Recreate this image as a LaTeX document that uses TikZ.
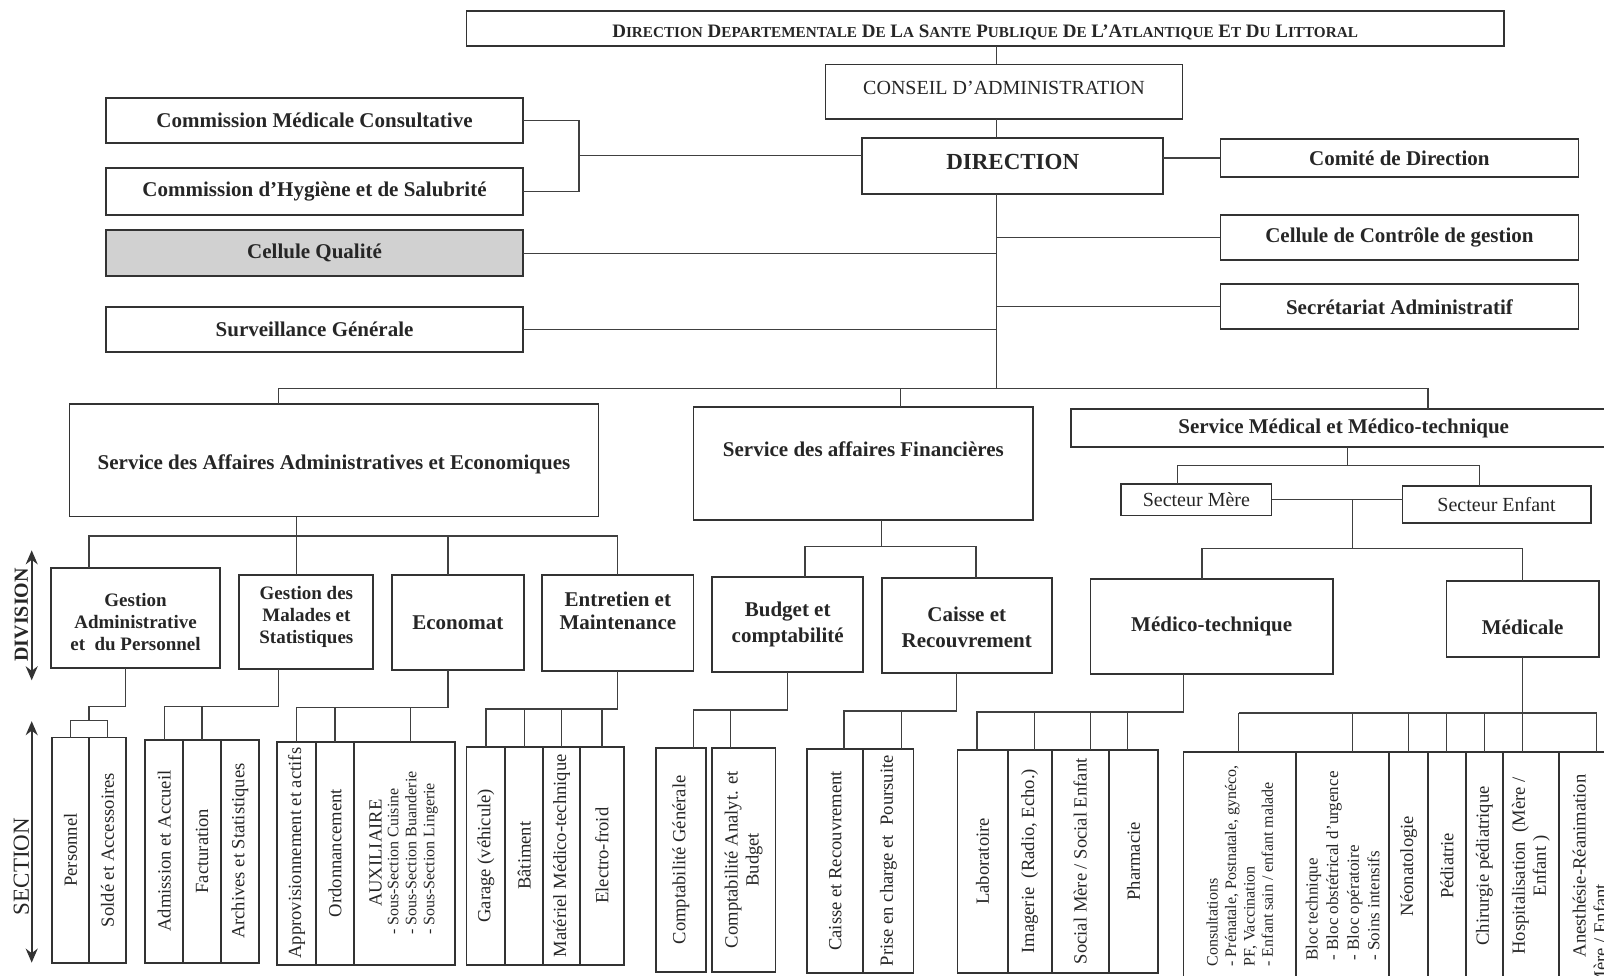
\documentclass[tikz,border=0pt]{standalone}
\usepackage{fontspec}
\setmainfont{Liberation Serif}
\usetikzlibrary{arrows.meta,positioning}

\def\un{0.5115pt}
\newcommand\smc[2]{#1{\fontsize{7.6}{8}\selectfont #2}}

\tikzset{
  box/.style={draw=black!80, line width=0.9pt, inner sep=0pt, outer sep=0pt},
  wire/.style={draw=black!75, line width=0.6pt},
  lab/.style={text=black!85, align=center, inner sep=0pt, font=\bfseries\fontsize{10.5}{11.5}\selectfont},
  reg/.style={font=\fontsize{10}{12}\selectfont},
  dv/.style={font=\bfseries\fontsize{9.5}{11}\selectfont},
  sec/.style={rotate=90, text=black!85, align=center, inner sep=0pt, font=\fontsize{9.3}{10.5}\selectfont},
  listtxt/.style={align=left, font=\fontsize{8}{9.2}\selectfont},
  dimarrow/.style={draw=black!80, line width=0.9pt, {Stealth[length=7pt,width=6pt]}-{Stealth[length=7pt,width=6pt]}},
}

% boite : style du texte, nom, x1, y1, x2, y2, texte
\newcommand\bx[7][]{%
  \node[box, minimum width={(#5-#3)*\un}, minimum height={(#6-#4)*\un}] (#2) at ({(#3+#5)/2},{(#4+#6)/2}) {};
  \node[lab,#1] at (#2.center) {#7};}
% colonne de section, texte vertical
\newcommand\cell[7][]{%
  \node[box, minimum width={(#5-#3)*\un}, minimum height={(#6-#4)*\un}] (#2) at ({(#3+#5)/2},{(#4+#6)/2}) {};
  \node[sec,#1] at (#2.center) {#7};}

\begin{document}
\begin{tikzpicture}[x=\un, y=-\un]
\useasboundingbox (0,0) rectangle (1568,954);
\clip (0,0) rectangle (1568,954);

% tete
\bx[font=\bfseries\fontsize{9.5}{10}\selectfont, yshift=-2pt]{ddsp}{456}{11}{1470}{45}{\smc{D}{IRECTION} \smc{D}{EPARTEMENTALE} \smc{D}{E} \smc{L}{A} \smc{S}{ANTE} \smc{P}{UBLIQUE} \smc{D}{E} \smc{L’A}{TLANTIQUE} \smc{E}{T} \smc{D}{U} \smc{L}{ITTORAL}}
\bx[reg, yshift=2pt]{conseil}{807}{63}{1156}{116}{CONSEIL D’ADMINISTRATION}
\bx[font=\bfseries\fontsize{11.5}{12}\selectfont, yshift=2pt]{dir}{843}{135}{1137}{190}{DIRECTION}

% organes rattaches
\bx{cmc}{104}{96}{511}{140}{Commission Médicale Consultative}
\bx{chs}{104}{164}{511}{210}{Commission d’Hygiène et de Salubrité}
\node[box, fill=black!18, minimum width={407*\un}, minimum height={45*\un}] (cq) at (307.5,247.5) {};
\node[lab] at (cq.center) {Cellule Qualité};
\bx{sg}{104}{300}{511}{344}{Surveillance Générale}
\bx{cdir}{1193}{136}{1543}{173}{Comité de Direction}
\bx{ccg}{1193}{210}{1543}{254}{Cellule de Contrôle de gestion}
\bx{secr}{1193}{278}{1543}{322}{Secrétariat Administratif}

\coordinate (trunk) at (974,380);
\draw[wire] (ddsp.south -| trunk) -- (conseil.north -| trunk);
\draw[wire] (conseil.south -| trunk) -- (dir.north -| trunk);
\draw[wire] (dir.south -| trunk) -- (trunk);
\draw[wire] (dir.east |- cdir.west) -- (cdir.west);
\draw[wire] (ccg.west) -- (ccg.west -| trunk);
\draw[wire] (secr.west) -- (secr.west -| trunk);
\coordinate (brk) at (566,152);
\draw[wire] (cmc.east) -| (brk) |- (chs.east);
\draw[wire] (brk) -- (brk -| dir.west);
\draw[wire] (cq.east) -- (cq.east -| trunk);
\draw[wire] (sg.east) -- (sg.east -| trunk);

% services
\bx[yshift=-2pt]{saae}{68}{395}{585}{505}{Service des Affaires Administratives et Economiques}
\bx[yshift=7pt]{saf}{678}{398}{1010}{508}{Service des affaires Financières}
\bx{smm}{1047}{400}{1580}{437}{Service Médical et Médico-technique}
\draw[wire] (saae.north -| 272,0) |- (trunk) -| (smm.north -| 1396,0);
\draw[wire] (saf.north -| 880,0) -- (trunk -| 880,0);

\bx[reg]{sm}{1096}{473}{1243}{504}{Secteur Mère}
\bx[reg]{sen}{1371}{475}{1555}{511}{Secteur Enfant}
\coordinate (ms) at (1317,455);
\draw[wire] (smm.south -| ms) -- (ms);
\draw[wire] (sm.north -| 1151,0) |- (ms) -| (sen.north -| 1446,0);
\draw[wire] (sm.east) -- (sm.east -| sen.west);

% divisions
\bx[dv, yshift=-2pt]{ga}{50}{555}{215}{653}{Gestion\\Administrative\\et~ du Personnel}
\bx[dv, yshift=2.5pt]{gms}{234}{562}{365}{654}{Gestion des\\Malades et\\Statistiques}
\bx{eco}{383}{562}{512}{655}{Economat}
\bx[yshift=6pt, font=\bfseries\fontsize{10.5}{11.8}\selectfont]{ent}{530}{562}{678}{656}{Entretien et\\Maintenance}
\bx[font=\bfseries\fontsize{10.5}{12.8}\selectfont]{bc}{696}{564}{844}{657}{Budget et\\comptabilité}
\bx[font=\bfseries\fontsize{10.5}{12.8}\selectfont, yshift=-1pt]{cr}{862}{565}{1028}{658}{Caisse et\\Recouvrement}
\bx{mt}{1066}{566}{1303}{659}{Médico-technique}
\bx[yshift=-4pt]{med}{1414}{568}{1563}{642}{Médicale}

\coordinate (da) at (290,524);
\draw[wire] (saae.south -| da) -- (da);
\draw[wire] (ga.north -| 87,0) |- (da) -| (ent.north -| 604,0);
\draw[wire] (da) -- (gms.north -| da);
\draw[wire] (eco.north -| 438,0) -- (da -| 438,0);
\coordinate (df) at (862,534);
\draw[wire] (saf.south -| df) -- (df);
\draw[wire] (bc.north -| 787,0) |- (df) -| (cr.north -| 954,0);
\coordinate (mm) at (1322,536);
\draw[wire] (mm |- sm.east) -- (mm);
\draw[wire] (mt.north -| 1175,0) |- (mm) -| (med.north -| 1488,0);

\draw[dimarrow] (31,538) coordinate (dv1) -- (31,665) coordinate (dv2);
\node[sec, font=\bfseries\fontsize{10}{11}\selectfont] (divlab) at (21,601) {DIVISION};
\draw[dimarrow] (31,705) coordinate (sc1) -- (31,941) coordinate (sc2);
\node[sec, font=\fontsize{11.5}{12}\selectfont] (seclab) at (21,847) {SECTION};

% sections
\cell{pers}{51}{721}{87}{941}{Personnel}
\cell{sold}{87}{721}{123}{941}{Soldé et Accessoires}
\coordinate (kA) at (87,704);
\draw[wire] (ga.south -| 123,0) |- (87,691) -- (kA);
\draw[wire] (pers.north) |- (kA) -| (sold.north);

\cell{adm}{142}{723}{179}{941}{Admission et Accueil}
\cell{fac}{179}{723}{216}{941}{Facturation}
\cell{arch}{216}{723}{253}{941}{Archives et Statistiques}
\coordinate (kB) at (272,691);
\draw[wire] (gms.south -| kB) -- (kB) -| (adm.north);
\draw[wire] (fac.north) -- (fac.north |- kB);

\cell{appro}{271}{725}{309}{943}{Approvisionnement et actifs}
\cell{ordo}{309}{725}{346}{943}{Ordonnancement}
\cell{aux}{346}{725}{445}{943}{AUXILIAIRE\\[1pt]{\fontsize{8}{9}\selectfont\begin{tabular}{@{}l@{}}- Sous-Section Cuisine\\- Sous-Section Buanderie\\- Sous-Section Lingerie\end{tabular}}}
\coordinate (kC) at (438,692);
\draw[wire] (eco.south -| kC) -- (kC) -| (appro.north);
\draw[wire] (ordo.north) -- (ordo.north |- kC);
\draw[wire] (aux.north -| 401,0) -- (kC -| 401,0);

\cell{gar}{456}{730}{494}{943}{Garage (véhicule)}
\cell{bat}{494}{730}{531}{943}{Bâtiment}
\cell{mat}{531}{730}{567}{943}{Matériel Médico-technique}
\cell{elec}{567}{730}{610}{943}{Electro-froid}
\coordinate (kD) at (604,693);
\draw[wire] (ent.south -| kD) -- (kD) -| (gar.north);
\foreach \na in {bat,mat,elec} \draw[wire] (\na.north) -- (\na.north |- kD);

\cell{cg}{641}{731}{690}{950}{Comptabilité Générale}
\cell{cab}{696}{731}{758}{950}{Comptabilité Analyt. et\\Budget}
\coordinate (kE) at (770,694);
\draw[wire] (bc.south -| kE) -- (kE) -| (cg.north -| 678,0);
\draw[wire] (cab.north -| 714,0) -- (kE -| 714,0);

\cell{cai}{789}{732}{844}{951}{Caisse et Recouvrement}
\cell{pri}{844}{732}{893}{951}{Prise en charge et~ Poursuite}
\coordinate (kF) at (935,695);
\draw[wire] (cr.south -| kF) -- (kF) -| (cai.north -| 825,0);
\draw[wire] (pri.north -| 881,0) -- (kF -| 881,0);

\cell{labo}{936}{733}{985}{951}{Laboratoire}
\cell{img}{985}{733}{1028}{951}{Imagerie~ (Radio, Echo.)}
\cell{soc}{1028}{733}{1084}{951}{Social Mère / Social Enfant}
\cell{pha}{1084}{733}{1132}{951}{Pharmacie}
\coordinate (kG) at (1157,696);
\draw[wire] (mt.south -| kG) -- (kG) -| (labo.north -| 955,0);
\foreach \xx/\na in {1011/img,1066/soc,1102/pha} \draw[wire] (\na.north -| \xx,0) -- (kG -| \xx,0);

\cell[listtxt]{cons}{1157}{735}{1267}{958}{Consultations\\- Prénatale, Postnatale, gynéco,\\PF, Vaccination\\- Enfant sain / enfant malade}
\cell[listtxt, font=\fontsize{8.5}{10.3}\selectfont]{bloc}{1267}{735}{1358}{958}{Bloc technique\\- Bloc obstétrical d’urgence\\- Bloc opératoire\\- Soins intensifs}
\cell{neo}{1358}{735}{1396}{958}{Néonatologie}
\cell{ped}{1396}{735}{1433}{958}{Pédiatrie}
\cell{chir}{1433}{735}{1469}{958}{Chirurgie pédiatrique}
\cell{hosp}{1469}{735}{1524}{958}{Hospitalisation~ (Mère /\\Enfant )}
\cell[align=left]{anes}{1524}{735}{1584}{958}{Anesthésie-Réanimation\\\hspace*{-15pt}Mère / Enfant}
\coordinate (kH) at (1488,697);
\draw[wire] (med.south -| kH) -- (hosp.north -| kH);
\draw[wire] (kH -| 1211,0) -- (kH -| 1561,0);
\foreach \xx/\na in {1211/cons,1322/bloc,1377/neo,1414/ped,1451/chir,1561/anes} \draw[wire] (kH -| \xx,0) -- (\na.north -| \xx,0);
\end{tikzpicture}
\end{document}
